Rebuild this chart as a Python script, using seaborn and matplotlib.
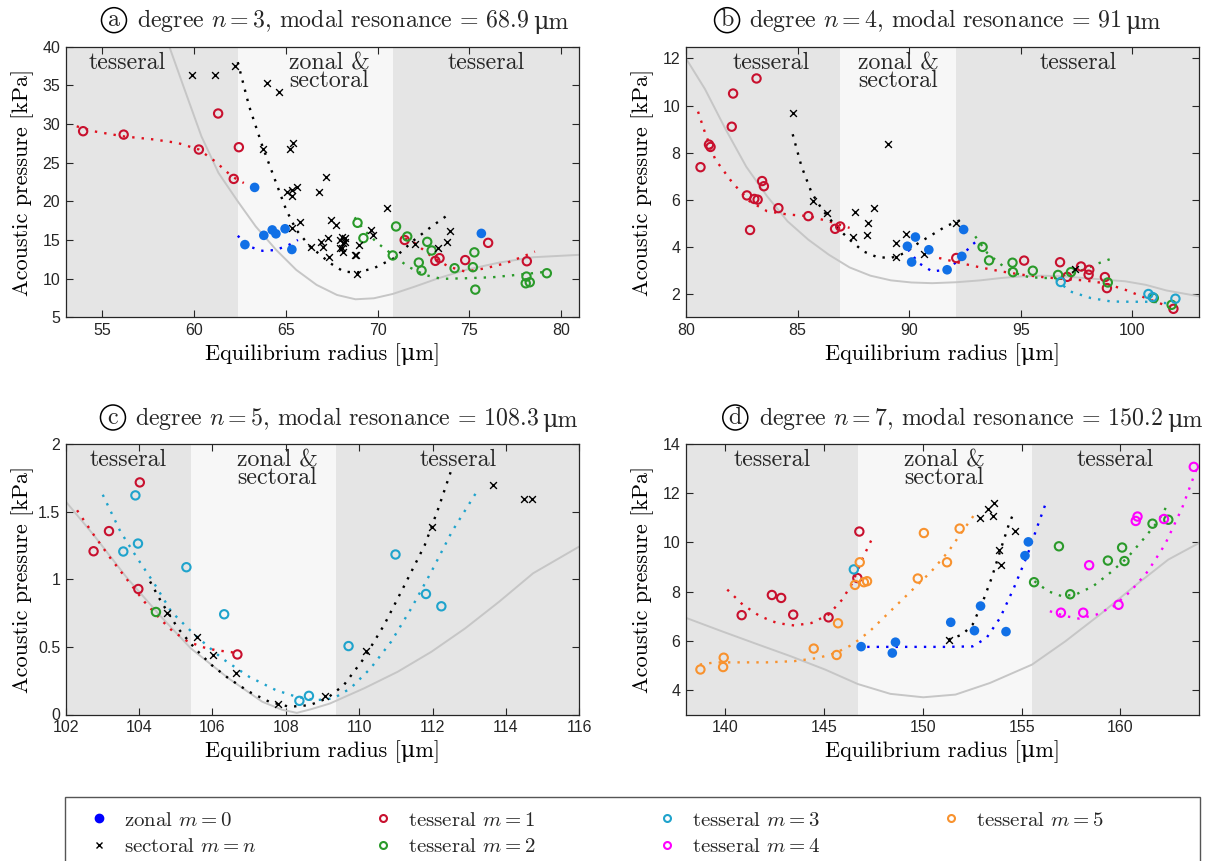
import matplotlib
matplotlib.use("Agg")
import matplotlib.pyplot as plt
import seaborn as sns
from matplotlib.lines import Line2D
from matplotlib.patches import Rectangle

# ------------------------------------------------------------------ data
# panel (a)  degree n = 3
a_zonal_r = [63.30, 62.77, 63.80, 64.26, 64.46, 64.96, 65.33, 75.66]
a_zonal_p = [21.8, 14.4, 15.6, 16.3, 15.8, 16.45, 13.77, 15.85]
a_zonal_fit_r = [62.38, 63.0, 63.73, 64.46, 65.2, 65.66]
a_zonal_fit_p = [15.54, 14.15, 13.6, 13.7, 14.4, 15.0]
a_sect_r = [59.91, 61.16, 62.25, 63.95, 64.61, 63.73, 65.24, 65.41, 67.20, 66.83,
            65.06, 65.31, 65.33, 65.63, 70.50, 65.79, 65.31, 66.40, 66.90, 67.05,
            67.32, 67.38, 67.49, 67.71, 67.93, 68.08, 68.25, 68.12, 68.06, 68.12,
            67.93, 68.21, 68.76, 68.84, 68.99, 68.87, 69.67, 69.78, 72.07, 73.27,
            73.78, 73.93]
a_sect_p = [36.28, 36.28, 37.5, 35.3, 34.1, 26.8, 26.8, 27.55, 23.2, 21.25,
            21.2, 20.7, 21.5, 21.9, 19.1, 17.35, 16.6, 14.15, 14.7, 14.07,
            15.3, 12.8, 17.6, 17.0, 15.0, 15.4, 15.3, 14.55, 14.0, 13.5,
            13.9, 14.8, 13.0, 13.0, 14.3, 10.57, 16.3, 15.7, 14.5, 13.9,
            14.8, 16.2]
a_sect_fit_r = [62.38, 63.0, 63.73, 64.47, 65.02, 65.57, 66.31, 67.42, 68.16, 68.9,
                69.8, 70.9, 72.0, 72.95, 73.87]
a_sect_fit_p = [38.0, 32.3, 27.1, 22.4, 18.9, 16.3, 14.2, 12.0, 10.9, 10.8,
                11.35, 12.65, 15.0, 16.75, 18.3]
a_t1_r = [53.95, 56.16, 60.26, 61.31, 62.44, 62.16, 71.48, 73.15, 73.38, 74.78, 76.03, 78.14]
a_t1_p = [29.07, 28.63, 26.7, 31.36, 27.0, 22.9, 15.0, 12.3, 12.65, 12.4, 14.63, 12.25]
a_t1_fit1_r = [53.6, 54.5, 56.16, 57.82, 59.11, 60.26, 61.14, 62.07, 62.71]
a_t1_fit1_p = [29.7, 29.07, 28.4, 28.0, 27.55, 26.7, 25.18, 23.2, 22.37]
a_t1_fit2_r = [71.5, 72.03, 72.95, 73.87, 74.8, 75.9, 77.0, 77.93, 78.58]
a_t1_fit2_p = [15.2, 14.6, 12.86, 11.56, 10.9, 11.35, 12.0, 12.86, 13.5]
a_t2_r = [68.91, 69.23, 70.83, 71.01, 71.62, 72.25, 72.40, 72.71, 72.95, 74.20,
          75.20, 75.28, 75.33, 78.12, 78.08, 78.30, 79.23]
a_t2_p = [17.22, 15.24, 13.0, 16.75, 15.45, 12.08, 11.05, 14.76, 13.64, 11.35,
          11.48, 13.4, 8.58, 10.27, 9.4, 9.53, 10.7]
a_t2_fit_r = [68.75, 69.26, 70.0, 70.83, 71.66, 72.58, 73.5, 74.8, 76.27, 77.56, 78.86, 79.32]
a_t2_fit_p = [17.92, 16.3, 14.6, 13.08, 11.56, 10.48, 9.97, 10.05, 10.18, 10.48, 10.8, 10.92]
a_curve_r = [58.65, 59.48, 60.4, 61.33, 62.38, 63.36, 64.47, 65.57, 66.68, 67.79,
             68.8, 69.8, 70.83, 72.03, 73.32, 74.8, 76.64, 78.49, 81.0]
a_curve_p = [40.0, 34.47, 28.4, 23.67, 20.0, 16.75, 13.73, 11.13, 9.19, 7.89,
             7.33, 7.46, 8.02, 8.97, 10.05, 11.13, 12.08, 12.77, 13.08]

# panel (b)  degree n = 4
b_t1_r = [80.65, 81.03, 81.10, 82.05, 82.11, 83.16, 82.73, 83.06, 83.21, 82.87,
          83.41, 83.49, 84.14, 85.48, 86.68, 86.91, 92.11, 95.15, 96.76, 97.08,
          97.70, 98.07, 98.04, 98.77, 98.86, 101.84]
b_t1_p = [7.38, 8.34, 8.24, 9.10, 10.51, 11.15, 6.18, 6.03, 6.00, 4.71,
          6.79, 6.57, 5.64, 5.30, 4.76, 4.86, 3.52, 3.41, 3.34, 2.72,
          3.16, 3.02, 2.81, 2.71, 2.24, 1.36]
b_t1_fit1_r = [80.54, 80.85, 81.31, 82.08, 82.85, 83.63, 84.55, 85.48, 86.4, 87.33]
b_t1_fit1_p = [9.74, 8.85, 7.71, 6.72, 5.93, 5.51, 5.37, 5.3, 5.08, 4.8]
b_t1_fit2_r = [91.34, 92.27, 93.19, 94.12, 95.05, 95.97, 96.9, 97.82, 98.75, 99.68,
               100.6, 101.53, 101.91]
b_t1_fit2_p = [3.52, 3.31, 3.12, 2.95, 2.81, 2.71, 2.63, 2.57, 2.45, 2.17,
               1.82, 1.49, 1.32]
b_sect_r = [84.80, 85.71, 86.34, 87.56, 87.48, 88.15, 88.12, 88.44, 89.04, 89.40,
            89.43, 89.88, 90.65, 92.08, 97.41]
b_sect_p = [9.70, 5.96, 5.42, 5.47, 4.43, 5.00, 4.51, 5.66, 8.36, 4.16,
            3.55, 4.53, 3.70, 5.01, 3.05]
b_sect_fit_r = [84.78, 85.17, 85.63, 86.1, 86.71, 87.33, 87.95, 88.56, 89.18, 89.8,
                90.42, 91.03, 91.65, 92.42]
b_sect_fit_p = [8.78, 7.43, 6.29, 5.58, 4.87, 4.3, 3.8, 3.56, 3.52, 3.73,
                4.16, 4.51, 4.87, 5.18]
b_zonal_r = [89.92, 90.28, 90.11, 90.88, 91.70, 92.36, 92.44]
b_zonal_p = [4.02, 4.41, 3.35, 3.87, 3.02, 3.59, 4.73]
b_zonal_fit_r = [89.95, 90.42, 91.03, 91.65, 92.27, 92.73, 93.12]
b_zonal_fit_p = [3.88, 3.31, 2.95, 3.02, 3.45, 4.02, 4.3]
b_t2_r = [93.29, 93.58, 94.63, 94.65, 95.54, 96.67, 97.25, 98.90, 100.96, 101.76]
b_t2_p = [3.99, 3.42, 3.32, 2.92, 2.98, 2.80, 2.92, 2.48, 1.82, 1.53]
b_t2_fit_r = [92.96, 93.5, 94.12, 94.74, 95.35, 95.97, 96.59, 97.21, 97.82, 98.44, 99.14]
b_t2_fit_p = [4.44, 3.73, 3.24, 2.88, 2.71, 2.67, 2.67, 2.88, 3.02, 3.28, 3.52]
b_t3_r = [96.79, 100.72, 100.91, 101.93]
b_t3_p = [2.50, 1.99, 1.86, 1.79]
b_t3_fit_r = [96.59, 97.21, 98.13, 99.06, 99.98, 100.9, 101.53]
b_t3_fit_p = [2.6, 2.1, 1.82, 1.67, 1.66, 1.66, 1.6]
b_curve_r = [80.0, 80.85, 81.77, 82.7, 83.63, 84.55, 85.48, 86.4, 87.33, 88.26,
             89.18, 90.1, 91.03, 92.11, 93.19, 94.12, 95.05, 95.97, 96.9, 97.82,
             98.75, 99.68, 100.6, 101.53, 103.0]
b_curve_p = [12.0, 10.7, 9.0, 7.4, 6.15, 5.08, 4.3, 3.66, 3.12, 2.77,
             2.57, 2.48, 2.45, 2.49, 2.57, 2.67, 2.74, 2.77, 2.74, 2.67,
             2.6, 2.53, 2.38, 2.14, 1.89]

# panel (c)  degree n = 5
c_t1_r = [102.76, 103.18, 104.02, 103.98, 106.68]
c_t1_p = [1.207, 1.356, 1.716, 0.928, 0.444]
c_t1_fit_r = [102.31, 102.76, 103.22, 103.68, 104.14, 104.6, 104.9, 105.3, 105.7, 106.1, 106.5, 106.67]
c_t1_fit_p = [1.51, 1.33, 1.156, 0.995, 0.835, 0.70, 0.62, 0.545, 0.50, 0.475, 0.462, 0.45]
c_t2_r = [104.46]
c_t2_p = [0.758]
c_t3_r = [103.90, 103.97, 103.57, 105.29, 106.32, 108.37, 108.63, 109.71, 110.99, 111.82, 112.24]
c_t3_p = [1.62, 1.264, 1.205, 1.089, 0.741, 0.101, 0.138, 0.506, 1.183, 0.891, 0.800]
c_t3_fit_r = [103.01, 103.49, 103.95, 104.41, 104.88, 105.52, 106.26, 107.0, 107.73, 108.29,
              108.84, 109.3, 109.76, 110.31, 110.87, 111.42, 111.97, 112.53, 113.22]
c_t3_fit_p = [1.625, 1.353, 1.156, 0.97, 0.76, 0.588, 0.415, 0.279, 0.18, 0.131,
              0.106, 0.119, 0.193, 0.341, 0.538, 0.785, 1.057, 1.353, 1.654]
c_sect_r = [104.76, 105.59, 106.02, 106.64, 107.78, 109.07, 110.18, 111.98, 113.64, 114.49, 114.70]
c_sect_p = [0.748, 0.575, 0.440, 0.304, 0.074, 0.136, 0.469, 1.39, 1.694, 1.595, 1.595]
c_sect_fit_r = [104.3, 104.6, 105.06, 105.52, 105.98, 106.44, 107.0, 107.55, 108.1, 108.65,
                109.12, 109.58, 110.13, 110.68, 111.24, 111.79, 112.16, 112.53]
c_sect_fit_p = [0.983, 0.835, 0.637, 0.489, 0.365, 0.267, 0.168, 0.094, 0.057, 0.069,
                0.119, 0.217, 0.415, 0.662, 0.958, 1.254, 1.526, 1.822]
c_curve_r = [102.0, 102.76, 103.68, 104.6, 105.41, 106.44, 107.36, 107.9, 108.3, 108.7,
             109.2, 110.13, 111.05, 111.97, 112.89, 113.82, 114.74, 116.0]
c_curve_p = [1.575, 1.328, 1.007, 0.723, 0.489, 0.267, 0.094, 0.035, 0.012, 0.04,
             0.081, 0.193, 0.316, 0.464, 0.637, 0.835, 1.044, 1.242]

# panel (d)  degree n = 7
d_t1_r = [140.82, 142.35, 142.82, 143.43, 145.22, 146.68, 146.78]
d_t1_p = [7.04, 7.86, 7.74, 7.06, 6.95, 8.55, 10.44]
d_t1_fit_r = [140.09, 140.87, 141.74, 142.61, 143.48, 144.35, 145.22, 145.91, 146.43, 146.96, 147.44]
d_t1_fit_p = [8.08, 7.47, 7.0, 6.72, 6.62, 6.72, 7.06, 7.67, 8.35, 9.37, 10.18]
d_t3_r = [146.5]
d_t3_p = [8.9]
d_t5_r = [138.73, 139.91, 139.88, 144.47, 145.63, 145.70, 146.56, 146.80, 147.01, 147.17,
          149.74, 150.05, 151.22, 151.86]
d_t5_p = [4.83, 5.31, 4.93, 5.68, 5.42, 6.71, 8.27, 9.19, 8.38, 8.42,
          8.53, 10.38, 9.19, 10.56]
d_t5_fit_r = [138.7, 139.48, 140.7, 142.09, 143.48, 144.7, 145.57, 146.43, 147.3, 148.35,
              149.39, 150.43, 151.3, 152.0, 152.61]
d_t5_fit_p = [5.03, 5.12, 5.12, 5.12, 5.17, 5.3, 5.5, 5.84, 6.38, 7.2,
              8.01, 8.82, 9.64, 10.45, 11.13]
d_zonal_r = [146.87, 148.61, 148.45, 151.41, 152.61, 152.92, 154.21, 155.17, 155.34]
d_zonal_p = [5.76, 5.94, 5.50, 6.75, 6.41, 7.41, 6.37, 9.46, 10.02]
d_zonal_fit_r = [146.7, 147.65, 149.39, 151.13, 152.52, 153.22, 153.91, 154.61, 155.3, 155.83, 156.26]
d_zonal_fit_p = [5.75, 5.75, 5.75, 5.75, 5.77, 6.11, 6.93, 8.15, 9.5, 10.72, 11.67]
d_sect_r = [151.34, 152.90, 153.29, 153.62, 153.53, 153.83, 153.95, 154.64]
d_sect_p = [6.02, 11.00, 11.34, 11.62, 11.09, 9.69, 9.09, 10.45]
d_sect_fit_r = [151.3, 152.0, 152.52, 153.04, 153.48, 153.91, 154.35, 154.56]
d_sect_fit_p = [6.05, 6.25, 6.66, 7.6, 8.55, 9.64, 10.72, 11.13]
d_t2_r = [155.63, 156.89, 157.46, 159.37, 160.09, 160.21, 161.63, 162.43]
d_t2_p = [8.38, 9.84, 7.89, 9.26, 9.79, 9.24, 10.76, 10.92]
d_t2_fit_r = [155.65, 156.35, 157.04, 157.74, 158.61, 159.48, 160.35, 161.22, 161.91, 162.35]
d_t2_fit_p = [8.42, 8.01, 7.81, 7.88, 8.21, 8.76, 9.37, 10.18, 10.86, 11.47]
d_t4_r = [156.99, 158.12, 158.42, 159.91, 160.78, 160.87, 162.21, 163.72]
d_t4_p = [7.14, 7.14, 9.07, 7.46, 10.87, 11.05, 10.95, 13.07]
d_t4_fit_r = [156.43, 157.22, 157.91, 158.78, 159.65, 160.52, 161.39, 162.26, 163.13, 163.91]
d_t4_fit_p = [7.2, 7.0, 6.9, 7.06, 7.4, 8.01, 8.82, 9.91, 11.4, 13.09]
d_curve_r = [138.0, 139.83, 141.57, 143.3, 145.04, 146.7, 148.35, 150.02, 151.65, 153.39,
             155.53, 157.22, 158.96, 160.7, 162.43, 164.0]
d_curve_p = [6.93, 6.38, 5.87, 5.37, 4.83, 4.24, 3.84, 3.7, 3.81, 4.28,
             5.03, 5.98, 7.06, 8.21, 9.3, 9.98]

# zone boundaries (tesseral | zonal & sectoral | tesseral)
a_zone = [62.38, 70.83]
b_zone = [86.91, 92.11]
c_zone = [105.41, 109.36]
d_zone = [146.7, 155.53]

MU = "\u03bc"
title_main = ["degree $n = 3$, modal resonance = 68.9",
              "degree $n = 4$, modal resonance = 91",
              "degree $n = 5$, modal resonance = 108.3",
              "degree $n = 7$, modal resonance = 150.2"]
title_unit = MU + "m"
letters = ["a", "b", "c", "d"]
x_label = "Equilibrium radius [" + MU + "m]"
y_label = "Acoustic pressure [kPa]"
zone_labels = ["tesseral", "zonal &\nsectoral", "tesseral"]
legend_labels = ["zonal $m = 0$", "sectoral $m = n$", "tesseral $m = 1$", "tesseral $m = 2$",
                 "tesseral $m = 3$", "tesseral $m = 4$", "tesseral $m = 5$"]

# ------------------------------------------------------------------ style
sns.set_style("ticks")
plt.rcParams["mathtext.fontset"] = "cm"
plt.rcParams["font.family"] = ["Liberation Sans", "DejaVu Sans"]
SERIF = ["cmr10", "DejaVu Serif"]

MARK = {"zonal": "#1170e6", "sect": "#000000", "t1": "#c8102e", "t2": "#2a9a2a",
        "t3": "#1fa3cc", "t4": "#ff00ff", "t5": "#f8922e"}
LINE = {"zonal": "#0000ff", "sect": "#000000", "t1": "#e0101e", "t2": "#2a9a2a",
        "t3": "#1fa3cc", "t4": "#ff00ff", "t5": "#f8922e"}
BG_T = "#e5e5e5"
BG_Z = "#f7f7f7"
CURVE = "#c6c6c6"
SPINE = "#262626"

fig = plt.figure(figsize=(12.11, 8.61), dpi=100)
W, H = 1211.0, 861.0


def add_ax(l, t, r, b):
    return fig.add_axes([l / W, 1 - b / H, (r - l) / W, (b - t) / H])


def scatter(ax, r, p, kind):
    if kind == "sect":
        sns.scatterplot(x=r, y=p, ax=ax, marker="x", color="k", s=24, linewidth=1.0, zorder=4)
    elif kind == "zonal":
        sns.scatterplot(x=r, y=p, ax=ax, marker="o", color=MARK[kind], s=48,
                        edgecolor="none", zorder=4)
    else:
        sns.scatterplot(x=r, y=p, ax=ax, marker="o", color=MARK[kind], facecolor="none",
                        edgecolor=MARK[kind], s=36, linewidth=1.5, zorder=4)


def fit(ax, r, p, kind):
    sns.lineplot(x=r, y=p, ax=ax, color=LINE[kind], linewidth=1.7, linestyle=(0, (1, 3)),
                 sort=False, estimator=None, zorder=3)


def panel(ax, xlim, ylim, zone, xticks, yticks, ytl, curve, pts, fits, lab_x,
          letter, title, letter_fx, title_fx):
    ax.set_facecolor(BG_T)
    ax.axvspan(zone[0], zone[1], color=BG_Z, lw=0, zorder=0)
    sns.lineplot(x=curve[0], y=curve[1], ax=ax, color=CURVE, linewidth=1.4,
                 sort=False, estimator=None, zorder=2)
    for r, p, k in fits:
        fit(ax, r, p, k)
    for r, p, k in pts:
        scatter(ax, r, p, k)
    ax.set_xlim(*xlim)
    ax.set_ylim(*ylim)
    ax.set_xticks(xticks)
    ax.set_yticks(yticks)
    ax.set_yticklabels(ytl)
    ax.set_xticklabels([str(v) for v in xticks])
    ax.tick_params(direction="in", top=True, right=True, length=5, width=0.8,
                   labelsize=11.5, pad=4, colors=SPINE)
    for s in ax.spines.values():
        s.set_color(SPINE)
        s.set_linewidth(0.9)
        s.set_visible(True)
        s.set_zorder(5)
    ax.set_xlabel(x_label, family=SERIF, fontsize=16, color="k")
    ax.set_ylabel(y_label, family=SERIF, fontsize=16, color="k")
    ax.xaxis.set_label_coords(0.5, -0.095)
    ax.yaxis.set_label_coords(-0.062, 0.5)
    tr = ax.get_xaxis_transform()
    fs = 17.2
    for xi, yi, lab in zip(lab_x, [0.918, 0.852, 0.918], zone_labels):
        ax.text(xi, yi, lab, transform=tr, family=SERIF, fontsize=fs,
                ha="center", va="baseline", multialignment="center",
                linespacing=0.72, zorder=6)
    ax.text(letter_fx, 1.098, letter, transform=ax.transAxes, family=SERIF, fontsize=fs,
            ha="center", va="center",
            bbox=dict(boxstyle="circle,pad=0.06", fc="white", ec="black", lw=1.1))
    t_main = ax.text(title_fx, 1.072, title, transform=ax.transAxes, family=SERIF,
                     fontsize=fs, ha="left", va="baseline")
    ax.annotate(title_unit, xy=(1, 0), xycoords=t_main, xytext=(2.5, 0),
                textcoords="offset points", family=SERIF, fontsize=fs,
                ha="left", va="bottom")


ax_a = add_ax(65.7, 46.7, 579.3, 317.3)
ax_b = add_ax(686.0, 46.7, 1199.3, 317.3)
ax_c = add_ax(65.7, 444.0, 579.3, 714.5)
ax_d = add_ax(686.0, 444.0, 1199.3, 714.5)

panel(ax_a, (53, 81), (5, 40), a_zone, [55, 60, 65, 70, 75, 80],
      [5, 10, 15, 20, 25, 30, 35, 40], ["5", "10", "15", "20", "25", "30", "35", "40"],
      (a_curve_r, a_curve_p),
      [(a_t1_r, a_t1_p, "t1"), (a_t2_r, a_t2_p, "t2"), (a_sect_r, a_sect_p, "sect"),
       (a_zonal_r, a_zonal_p, "zonal")],
      [(a_t1_fit1_r, a_t1_fit1_p, "t1"), (a_t1_fit2_r, a_t1_fit2_p, "t1"),
       (a_t2_fit_r, a_t2_fit_p, "t2"), (a_sect_fit_r, a_sect_fit_p, "sect"),
       (a_zonal_fit_r, a_zonal_fit_p, "zonal")],
      [56.38, 67.36, 75.9], letters[0], title_main[0], 0.094, 0.139)

panel(ax_b, (80, 103), (1, 12.5), b_zone, [80, 85, 90, 95, 100],
      [2, 4, 6, 8, 10, 12], ["2", "4", "6", "8", "10", "12"],
      (b_curve_r, b_curve_p),
      [(b_t1_r, b_t1_p, "t1"), (b_t2_r, b_t2_p, "t2"), (b_t3_r, b_t3_p, "t3"),
       (b_sect_r, b_sect_p, "sect"), (b_zonal_r, b_zonal_p, "zonal")],
      [(b_t1_fit1_r, b_t1_fit1_p, "t1"), (b_t1_fit2_r, b_t1_fit2_p, "t1"),
       (b_t2_fit_r, b_t2_fit_p, "t2"), (b_t3_fit_r, b_t3_fit_p, "t3"),
       (b_sect_fit_r, b_sect_fit_p, "sect"), (b_zonal_fit_r, b_zonal_fit_p, "zonal")],
      [83.8, 89.5, 97.56], letters[1], title_main[1], 0.08, 0.122)

panel(ax_c, (102, 116), (0, 2), c_zone, [102, 104, 106, 108, 110, 112, 114, 116],
      [0, 0.5, 1, 1.5, 2], ["0", "0.5", "1", "1.5", "2"],
      (c_curve_r, c_curve_p),
      [(c_t1_r, c_t1_p, "t1"), (c_t2_r, c_t2_p, "t2"), (c_t3_r, c_t3_p, "t3"),
       (c_sect_r, c_sect_p, "sect")],
      [(c_t1_fit_r, c_t1_fit_p, "t1"), (c_t3_fit_r, c_t3_fit_p, "t3"),
       (c_sect_fit_r, c_sect_fit_p, "sect")],
      [103.71, 107.76, 112.69], letters[2], title_main[2], 0.092, 0.134)

panel(ax_d, (138, 164), (3, 14), d_zone, [140, 145, 150, 155, 160],
      [4, 6, 8, 10, 12, 14], ["4", "6", "8", "10", "12", "14"],
      (d_curve_r, d_curve_p),
      [(d_t1_r, d_t1_p, "t1"), (d_t3_r, d_t3_p, "t3"), (d_t5_r, d_t5_p, "t5"),
       (d_t2_r, d_t2_p, "t2"), (d_t4_r, d_t4_p, "t4"), (d_sect_r, d_sect_p, "sect"),
       (d_zonal_r, d_zonal_p, "zonal")],
      [(d_t1_fit_r, d_t1_fit_p, "t1"), (d_t5_fit_r, d_t5_fit_p, "t5"),
       (d_zonal_fit_r, d_zonal_fit_p, "zonal"), (d_sect_fit_r, d_sect_fit_p, "sect"),
       (d_t2_fit_r, d_t2_fit_p, "t2"), (d_t4_fit_r, d_t4_fit_p, "t4")],
      [142.35, 151.1, 159.74], letters[3], title_main[3], 0.096, 0.143)

# ------------------------------------------------------------------ legend
fig.patches.append(Rectangle((65 / W, -0.02), (1200 - 65) / W, (861 - 797) / H + 0.02,
                             transform=fig.transFigure, fill=False, ec="#555555", lw=1.0))


def h_open(c):
    return Line2D([], [], ls="none", marker="o", markersize=5, mfc="none", mec=c, mew=1.5)


handles = [Line2D([], [], ls="none", marker="o", markersize=6, mfc="#0000ff", mec="#0000ff"),
           Line2D([], [], ls="none", marker="x", markersize=5, mec="k", mew=1.0),
           h_open(MARK["t1"]), h_open(MARK["t2"]), h_open(MARK["t3"]), h_open(MARK["t4"]),
           h_open(MARK["t5"])]
col_x = [91, 375, 659, 943]
groups = [[0, 1], [2, 3], [4, 5], [6]]
for cx, g in zip(col_x, groups):
    fig.legend([handles[i] for i in g], [legend_labels[i] for i in g],
               loc="upper left", bbox_to_anchor=(cx / W, 1 - 811 / H),
               frameon=False, borderpad=0, borderaxespad=0, handlelength=0.8,
               handletextpad=0.8, labelspacing=0.4,
               prop={"family": SERIF, "size": 15})

fig.savefig("out.png", dpi=100)
